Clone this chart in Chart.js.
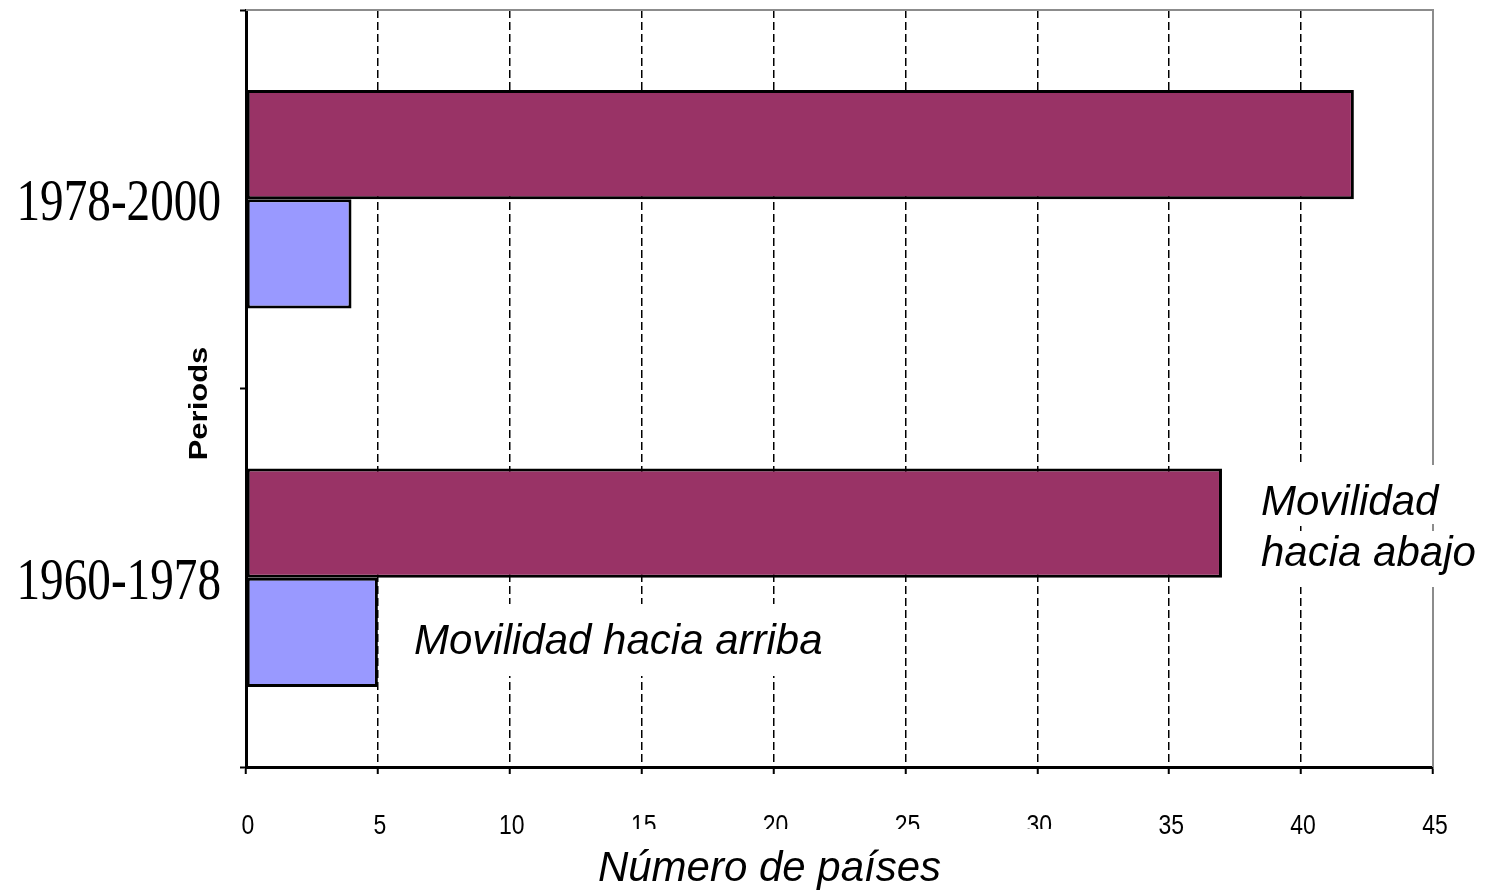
<!DOCTYPE html>
<html>
<head>
<meta charset="utf-8">
<script src="https://cdn.jsdelivr.net/npm/chart.js@4/dist/chart.umd.min.js"></script>
<style>
  html, body { margin: 0; padding: 0; background: #ffffff; }
  #wrap { width: 1486px; height: 892px; }
</style>
</head>
<body>
<div id="wrap"><canvas id="c" width="1486" height="892"></canvas></div>
<script>
// ---- data ----
const periods = ['1978-2000', '1960-1978'];
const downwardMobility = [42, 37];
const upwardMobility = [4, 5];
const seriesNames = ['Movilidad hacia abajo', 'Movilidad hacia arriba'];
const xMin = 0;
const xMax = 45;
const xStep = 5;
const xTitle = 'Número de países';
const yTitle = 'Periods';
const noteUp = ['Movilidad hacia arriba'];
const noteDown = ['Movilidad', 'hacia abajo'];

const SANS = "'Liberation Sans', Arial, Helvetica, sans-serif";
const SERIF = "'Liberation Serif', 'Times New Roman', serif";

const overlay = {
  id: 'overlay',
  afterDraw(chart) {
    const ctx = chart.ctx;
    const area = chart.chartArea;
    const ys = chart.scales.y;
    const xs = chart.scales.x;
    ctx.save();
    // plot frame top and right (gray)
    ctx.strokeStyle = '#8c8c8c';
    ctx.lineWidth = 2;
    ctx.beginPath();
    ctx.moveTo(area.left, area.top);
    ctx.lineTo(area.right, area.top);
    ctx.lineTo(area.right, area.bottom);
    ctx.stroke();

    ctx.fillStyle = '#000';
    // x tick labels (condensed sans), positioned by the x scale
    ctx.font = '28px ' + SANS;
    ctx.textAlign = 'center';
    ctx.textBaseline = 'alphabetic';
    xs.ticks.forEach((t) => {
      const x = xs.getPixelForValue(t.value);
      ctx.save();
      ctx.translate(x + 2, 834);
      ctx.scale(0.82, 1);
      ctx.fillText(String(t.value), 0, 0);
      ctx.restore();
    });

    // y category labels (condensed serif), positioned by the y scale
    ctx.font = '59px ' + SERIF;
    ctx.textAlign = 'right';
    periods.forEach((p, i) => {
      const y = ys.getPixelForValue(i);
      ctx.save();
      ctx.translate(221, y + 21);
      ctx.scale(0.8, 1);
      ctx.fillText(p, 0, 0);
      ctx.restore();
    });

    // y axis title
    ctx.save();
    ctx.font = 'bold 31px ' + SANS;
    ctx.textAlign = 'center';
    ctx.translate(206.5, 403.5);
    ctx.scale(0.82, 1);
    ctx.rotate(-Math.PI / 2);
    ctx.fillText(yTitle, 0, 0);
    ctx.restore();

    // white boxes behind the notes and the x title
    ctx.fillStyle = '#fff';
    ctx.fillRect(400, 604, 442, 72);
    ctx.fillRect(1253, 465, 195, 59);
    ctx.fillRect(1253, 531, 230, 56);
    ctx.fillRect(590, 829, 470, 63);

    ctx.fillStyle = '#000';
    ctx.font = 'italic 42px ' + SANS;
    ctx.textAlign = 'left';
    ctx.fillText(noteUp[0], 414, 654);
    ctx.fillText(noteDown[0], 1261, 515);
    ctx.fillText(noteDown[1], 1261, 566);

    ctx.textAlign = 'center';
    ctx.fillText(xTitle, 769.5, 881);
    ctx.restore();
  }
};

new Chart(document.getElementById('c'), {
  type: 'bar',
  data: {
    labels: periods,
    datasets: [
      {
        label: seriesNames[0],
        data: downwardMobility,
        backgroundColor: '#993366',
        borderColor: '#000000',
        borderWidth: 3,
        borderSkipped: false,
        categoryPercentage: 0.577,
        barPercentage: 1
      },
      {
        label: seriesNames[1],
        data: upwardMobility,
        backgroundColor: '#9999FF',
        borderColor: '#000000',
        borderWidth: 3,
        borderSkipped: false,
        categoryPercentage: 0.577,
        barPercentage: 1
      }
    ]
  },
  options: {
    indexAxis: 'y',
    responsive: false,
    maintainAspectRatio: false,
    devicePixelRatio: 1,
    animation: false,
    layout: { padding: { left: 0, right: 53, top: 10, bottom: 0 } },
    plugins: {
      legend: { display: false },
      tooltip: { enabled: false },
      title: { display: false }
    },
    scales: {
      x: {
        type: 'linear',
        position: 'bottom',
        min: xMin,
        max: xMax,
        ticks: { stepSize: xStep, display: false },
        grid: {
          display: true,
          drawOnChartArea: true,
          drawTicks: true,
          tickLength: 7,
          tickWidth: 2,
          tickColor: '#000',
          lineWidth: 1.5,
          color: (c) => (c.tick && c.tick.value === xMax) ? '#8c8c8c' : '#000'
        },
        border: { display: true, color: '#000', width: 3, dash: [8, 4] },
        afterFit(scale) { scale.height = 125; }
      },
      y: {
        type: 'category',
        position: 'left',
        offset: true,
        ticks: { display: false },
        grid: {
          display: true,
          offset: true,
          drawOnChartArea: false,
          drawTicks: true,
          tickLength: 6,
          tickWidth: 2,
          tickColor: '#000',
          color: '#000'
        },
        border: { display: true, color: '#000', width: 3 },
        afterFit(scale) { scale.width = 246; }
      }
    }
  },
  plugins: [overlay]
});
</script>
</body>
</html>
